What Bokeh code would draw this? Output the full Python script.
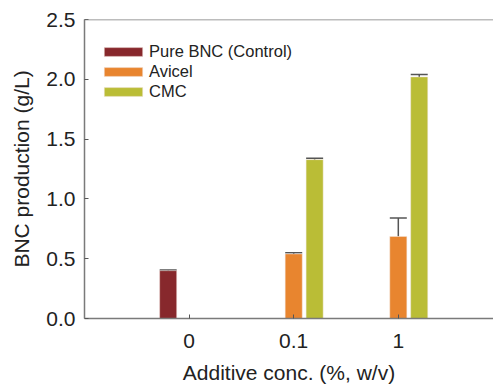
from bokeh.plotting import figure
from bokeh.models import ColumnDataSource, Whisker, TeeHead, Span, FixedTicker, Legend, LegendItem
from bokeh.embed import file_html
from bokeh.resources import INLINE

categories = ["0", "0.1", "1"]
group_pos = [1, 2, 3]

pure_pos = [1]
pure_val = [0.40]
pure_err = [0.005]

avicel_pos = [2, 3]
avicel_val = [0.54, 0.686]
avicel_err = [0.01, 0.155]

cmc_pos = [2, 3]
cmc_val = [1.328, 2.02]
cmc_err = [0.012, 0.02]

series_names = ["Pure BNC (Control)", "Avicel", "CMC"]
colors = ["#87282C", "#E8852F", "#BABD36"]
offsets = [-0.2, 0.0, 0.2]

p = figure(width=493, height=386, x_range=(0, 3.91), y_range=(0, 2.5),
           output_backend="svg", toolbar_location=None,
           min_border_left=84, min_border_right=0, min_border_top=19, min_border_bottom=0)
p.outline_line_color = None
p.grid.visible = False
p.background_fill_color = "white"

FONT = "Liberation Sans"
renderers = []
for name, pos, val, err, col, off in [
    (series_names[0], pure_pos, pure_val, pure_err, colors[0], offsets[0]),
    (series_names[1], avicel_pos, avicel_val, avicel_err, colors[1], offsets[1]),
    (series_names[2], cmc_pos, cmc_val, cmc_err, colors[2], offsets[2]),
]:
    xs = [x + off for x in pos]
    src = ColumnDataSource(dict(x=xs, top=val, upper=[v + e for v, e in zip(val, err)]))
    r = p.vbar(x="x", top="top", width=0.163, source=src, fill_color=col,
               line_color="#F2E6E0", line_width=0.8, line_alpha=0.6)
    renderers.append((name, r))
    w = Whisker(source=src, base="x", lower="top", upper="upper",
                line_color="#555555", line_width=1.5,
                upper_head=TeeHead(size=17, line_color="#555555", line_width=1.5),
                lower_head=None)
    p.add_layout(w)

# top border line
p.add_layout(Span(location=2.5, dimension="width", line_color="#7a7a7a", line_width=1.5))

items = [LegendItem(label=n, renderers=[r]) for n, r in renderers]
legend = Legend(items=items, location="top_left", glyph_width=48, glyph_height=11,
                label_standoff=2, spacing=0, padding=0, margin=0,
                label_text_font=FONT, label_text_font_size="16.5px", label_text_color="#222222",
                label_height=20, border_line_color=None, background_fill_alpha=0)
legend.location = (15, 217)
p.add_layout(legend, "center")

for ax in (p.xaxis[0], p.yaxis[0]):
    ax.axis_line_color = "#7a7a7a"
    ax.axis_line_width = 1.5
    ax.major_tick_line_color = "#555555"
    ax.major_tick_in = 4
    ax.major_tick_out = 0
    ax.minor_tick_line_color = None
    ax.major_label_text_font = FONT
    ax.major_label_text_font_size = "21px"
    ax.major_label_text_color = "#222222"
    ax.axis_label_text_font = FONT
    ax.axis_label_text_font_size = "21px"
    ax.axis_label_text_font_style = "normal"
    ax.axis_label_text_color = "#222222"

p.xaxis.ticker = FixedTicker(ticks=group_pos)
p.xaxis.major_label_overrides = {g: c for g, c in zip(group_pos, categories)}
p.xaxis.axis_label = "Additive conc. (%, w/v)"
p.xaxis.major_label_standoff = 15
p.xaxis.axis_label_standoff = 10

p.yaxis.ticker = FixedTicker(ticks=[0, 0.5, 1.0, 1.5, 2.0, 2.5])
p.yaxis.major_label_overrides = {0: "0.0", 0.5: "0.5", 1.0: "1.0", 1.5: "1.5", 2.0: "2.0", 2.5: "2.5"}
p.yaxis.axis_label = "BNC production (g/L)"
p.yaxis.major_label_standoff = 9
p.yaxis.axis_label_standoff = 10

open("out.html", "w").write(file_html(p, INLINE))
